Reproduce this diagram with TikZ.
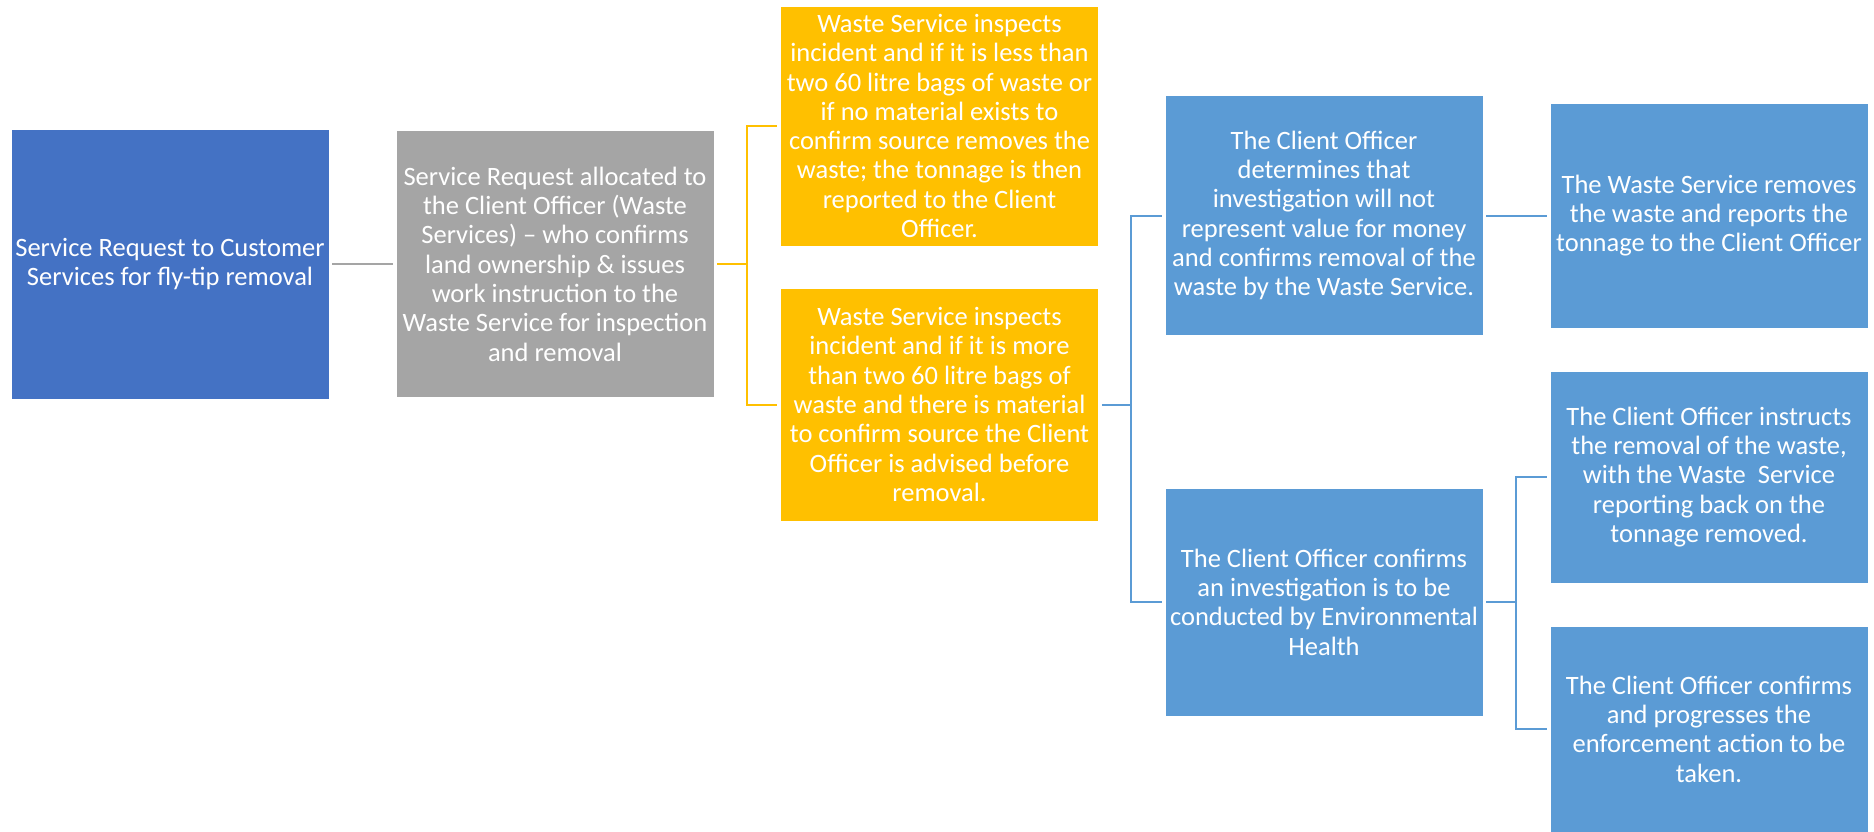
\documentclass[tikz,border=0pt]{standalone}
\usepackage{fontspec}
\setmainfont{Carlito}
\definecolor{dblue}{HTML}{4472C4}
\definecolor{lgray}{HTML}{A5A5A5}
\definecolor{gold}{HTML}{FFC000}
\definecolor{lblue}{HTML}{5B9BD5}
\tikzset{
  box/.style={rectangle, draw=white, line width=0.8pt, text=white, align=center,
    inner sep=1pt, minimum width=318pt, font=\fontsize{26.5}{29.3}\selectfont},
  grayline/.style={draw=lgray, line width=2.5pt},
  goldline/.style={draw=gold, line width=2pt},
  blueline/.style={draw=lblue, line width=2pt},
}
\begin{document}
\begin{tikzpicture}[x=1pt,y=-1pt]
\useasboundingbox (0,0) rectangle (1874,831);
\node[box, fill=dblue, minimum height=270pt] (b1) at (170,264) {Service Request to Customer\\Services for fly-tip removal};
\node[box, fill=lgray, minimum height=267pt] (b2) at (555,264) {Service Request allocated to\\the Client Officer (Waste\\Services) – who confirms\\land ownership \& issues\\work instruction to the\\Waste Service for inspection\\and removal};
\node[box, fill=gold, minimum height=240pt] (b3) at (939.5,126) {Waste Service inspects\\incident and if it is less than\\two 60 litre bags of waste or\\if no material exists to\\confirm source removes the\\waste; the tonnage is then\\reported to the Client\\Officer.};
\node[box, fill=gold, minimum height=233pt] (b4) at (939.5,404.5) {Waste Service inspects\\incident and if it is more\\than two 60 litre bags of\\waste and there is material\\to confirm source the Client\\Officer is advised before\\removal.};
\node[box, fill=lblue, minimum height=240pt] (b5) at (1324,215.5) {The Client Officer\\determines that\\investigation will not\\represent value for money\\and confirms removal of the\\waste by the Waste Service.};
\node[box, fill=lblue, minimum height=228pt] (b6) at (1324,602) {The Client Officer confirms\\an investigation is to be\\conducted by Environmental\\Health};
\node[box, fill=lblue, minimum height=225pt] (b7) at (1709,215.5) {The Waste Service removes\\the waste and reports the\\tonnage to the Client Officer};
\node[box, fill=lblue, minimum height=212pt] (b8) at (1709,477) {The Client Officer instructs\\the removal of the waste,\\with the Waste\ \ Service\\reporting back on the\\tonnage removed.};
\node[box, fill=lblue, minimum height=206pt] (b9) at (1709,729) {The Client Officer confirms\\and progresses the\\enforcement action to be\\taken.};
\coordinate (j1) at (747,264);
\coordinate (j2) at (1131,404.5);
\coordinate (j3) at (1516,602);
\draw[grayline] ([xshift=3pt]b1.east) -- ([xshift=-3pt]b2.west);
\draw[goldline] ([xshift=3pt]b2.east) -- (j1);
\draw[goldline] (j1) |- ([xshift=-3pt]b3.west);
\draw[goldline] (j1) |- ([xshift=-3pt]b4.west);
\draw[blueline] ([xshift=3pt]b4.east) -- (j2);
\draw[blueline] (j2) |- ([xshift=-3pt]b5.west);
\draw[blueline] (j2) |- ([xshift=-3pt]b6.west);
\draw[blueline] ([xshift=3pt]b5.east) -- ([xshift=-3pt]b7.west);
\draw[blueline] ([xshift=3pt]b6.east) -- (j3);
\draw[blueline] (j3) |- ([xshift=-3pt]b8.west);
\draw[blueline] (j3) |- ([xshift=-3pt]b9.west);
\end{tikzpicture}
\end{document}
